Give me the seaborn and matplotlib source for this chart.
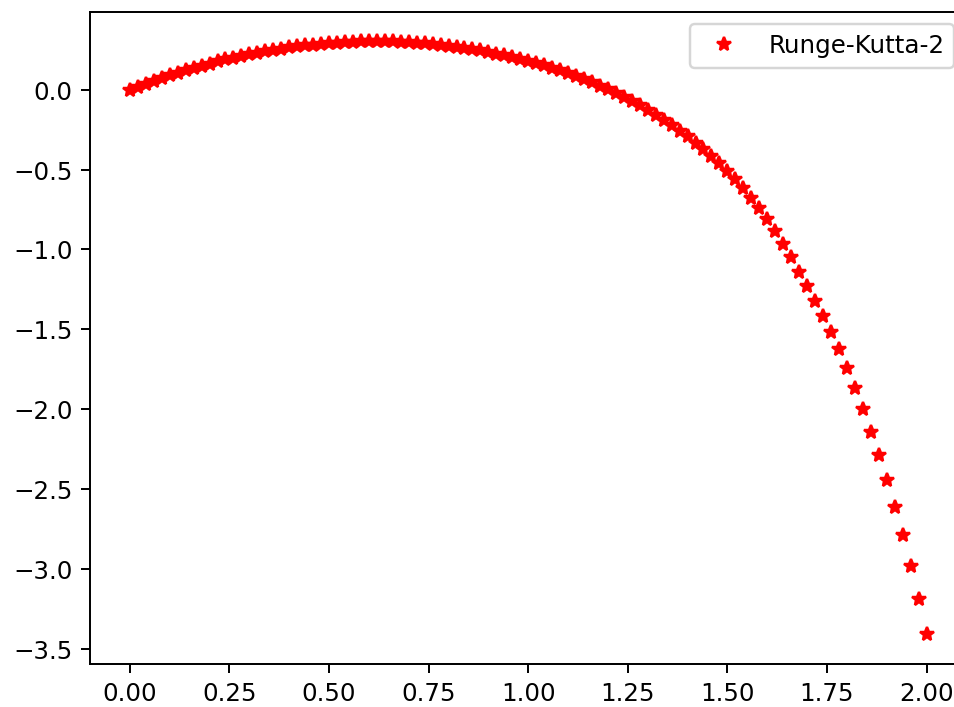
import numpy as np
import pandas as pd
import matplotlib
matplotlib.use("Agg")
import matplotlib.pyplot as plt
import seaborn as sns

# x grid (step 0.02 from 0 to 2) and Runge-Kutta-2 values
x_values = [round(0.02 * i, 2) for i in range(101)]
y_values = [
    0.0000, 0.0193, 0.0379, 0.0560, 0.0733, 0.0901, 0.1062, 0.1217, 0.1366, 0.1508,
    0.1644, 0.1774, 0.1897, 0.2014, 0.2125, 0.2229, 0.2327, 0.2419, 0.2504, 0.2583,
    0.2656, 0.2722, 0.2783, 0.2836, 0.2884, 0.2925, 0.2960, 0.2988, 0.3011, 0.3026,
    0.3036, 0.3039, 0.3037, 0.3026, 0.3009, 0.2985, 0.2955, 0.2917, 0.2872, 0.2821,
    0.2763, 0.2698, 0.2626, 0.2548, 0.2462, 0.2370, 0.2270, 0.2164, 0.2052, 0.1932,
    0.1805, 0.1665, 0.1525, 0.1375, 0.1215, 0.1045, 0.0865, 0.0675, 0.0475, 0.0265,
    0.0045, -0.0185, -0.0435, -0.0695, -0.0965, -0.1255, -0.1555, -0.1875, -0.2205, -0.2555,
    -0.2925, -0.3315, -0.3725, -0.4155, -0.4605, -0.5085, -0.5600, -0.6150, -0.6750, -0.7400,
    -0.8100, -0.8850, -0.9650, -1.0500, -1.1400, -1.2300, -1.3200, -1.4150, -1.5150, -1.6250,
    -1.7400, -1.8650, -2.0000, -2.1400, -2.2900, -2.4450, -2.6100, -2.7900, -2.9850, -3.1900,
    -3.4100,
]
series_label = "Runge-Kutta-2"

df = pd.DataFrame({"x": x_values, "y": y_values})

DPI = 176.7
fig = plt.figure(figsize=(954.4 / DPI, 707.4 / DPI), dpi=DPI)
ax = fig.add_axes([90 / 954, (707 - 664) / 707, 876 / 954, 652 / 707])

sns.lineplot(
    data=df, x="x", y="y", ax=ax,
    marker="*", linestyle="", color="red",
    markersize=6, markeredgecolor="red", markeredgewidth=1.0,
    label=series_label, sort=False, estimator=None,
)
ax.set_xlabel("")
ax.set_ylabel("")
ax.set_xticks([0.0, 0.25, 0.5, 0.75, 1.0, 1.25, 1.5, 1.75, 2.0])
ax.set_yticks([0.0, -0.5, -1.0, -1.5, -2.0, -2.5, -3.0, -3.5])
for side in ["top", "right", "left", "bottom"]:
    ax.spines[side].set_visible(True)
    ax.spines[side].set_color("black")
    ax.spines[side].set_linewidth(0.8)
ax.legend(loc="upper right")

fig.savefig("out.png", dpi=DPI)
